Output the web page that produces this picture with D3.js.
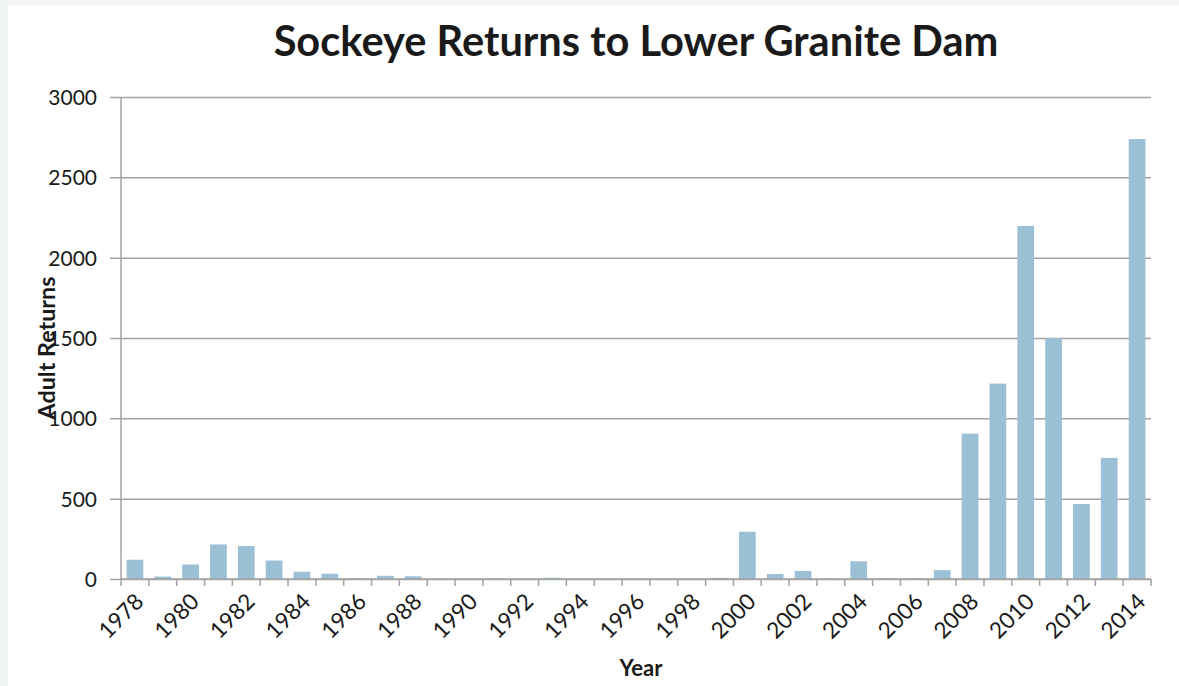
<!DOCTYPE html>
<html>
<head>
<meta charset="utf-8">
<script src="https://cdn.jsdelivr.net/npm/d3@7"></script>
<style>
  html, body { margin: 0; padding: 0; background: #f1f5f6; }
  svg { display: block; }
  text { font-family: Lato, "Open Sans", sans-serif; fill: #1a1a1a; }
</style>
</head>
<body>
<svg id="chart" width="1179" height="686"></svg>
<script>
const years = [1978,1979,1980,1981,1982,1983,1984,1985,1986,1987,1988,1989,1990,1991,1992,1993,1994,1995,1996,1997,1998,1999,2000,2001,2002,2003,2004,2005,2006,2007,2008,2009,2010,2011,2012,2013,2014];
const returns = [120,15,90,215,205,115,45,33,6,20,17,1,0,4,1,8,1,0,1,1,1,7,294,31,50,3,110,6,5,55,905,1216,2198,1499,467,754,2738];
const yTicks = [0,500,1000,1500,2000,2500,3000];
const titleText = "Sockeye Returns to Lower Granite Dam";
const xTitle = "Year";
const yTitle = "Adult Returns";

const W = 1179, H = 686;
const m = {left: 121, right: 28, top: 97, bottom: 107};
const svg = d3.select("#chart");

// frame
svg.append("rect").attr("x", 0).attr("y", 0).attr("width", W).attr("height", H).attr("fill", "#f1f5f6");
svg.append("rect").attr("x", 8).attr("y", 5).attr("width", W - 8).attr("height", H - 5).attr("fill", "#ffffff");

const x = d3.scaleBand().domain(years).range([m.left, W - m.right]).paddingInner(0.4).paddingOuter(0.2);
const y = d3.scaleLinear().domain([0, 3000]).range([H - m.bottom, m.top]);

const gridColor = "#a3a3a3";

// gridlines with outward ticks
const yAxis = d3.axisLeft(y).tickValues(yTicks).tickFormat(d3.format("d"))
  .tickSize(-(W - m.right - m.left)).tickSizeOuter(0).tickPadding(0);
const gy = svg.append("g").attr("transform", `translate(${m.left},0)`).call(yAxis);
gy.select(".domain").remove();
gy.selectAll(".tick line").attr("stroke", gridColor).attr("stroke-width", 1.5).attr("x1", -11);
gy.selectAll(".tick text").attr("x", -24).attr("dy", "0.35em").style("font-size", "21px").attr("fill", "#1a1a1a");

// bars
svg.append("g").selectAll("rect").data(years).join("rect")
  .attr("x", d => x(d))
  .attr("width", x.bandwidth())
  .attr("y", (d, i) => y(returns[i]))
  .attr("height", (d, i) => y(0) - y(returns[i]))
  .attr("fill", "#9bbfd4");

// left axis line
svg.append("line").attr("x1", m.left).attr("x2", m.left).attr("y1", y(3000)).attr("y2", y(0))
  .attr("stroke", gridColor).attr("stroke-width", 1.5);

// x axis: baseline and ticks at band boundaries
const step = x.step();
const x0 = x.range()[0];
svg.append("line").attr("x1", m.left).attr("x2", W - m.right).attr("y1", y(0)).attr("y2", y(0))
  .attr("stroke", gridColor).attr("stroke-width", 1.5);
const boundaries = d3.range(years.length + 1);
svg.append("g").selectAll("line").data(boundaries).join("line")
  .attr("x1", i => x0 + i * step).attr("x2", i => x0 + i * step)
  .attr("y1", y(0)).attr("y2", y(0) + 7)
  .attr("stroke", gridColor).attr("stroke-width", 1.5);

// x labels every other year
const labelYears = years.filter(d => (d - 1978) % 2 === 0);
svg.append("g").selectAll("text").data(labelYears).join("text")
  .attr("transform", d => `translate(${x(d) + x.bandwidth() / 2 + 10},${y(0) + 24}) rotate(-45)`)
  .attr("text-anchor", "end")
  .style("font-size", "22.5px")
  .text(d => d);

// fit helper
function fit(sel, target) {
  const w = sel.node().getComputedTextLength();
  const fs = parseFloat(sel.style("font-size"));
  sel.style("font-size", (fs * target / w) + "px");
}

// title
const t = svg.append("text").attr("x", (m.left + W - m.right) / 2).attr("y", 56)
  .attr("text-anchor", "middle").style("font-size", "36px").style("font-weight", "bold")
  .text(titleText);
fit(t, 725);

// axis titles
const xt = svg.append("text").attr("x", 641).attr("y", 676).attr("text-anchor", "middle")
  .style("font-size", "20px").style("font-weight", "bold").text(xTitle);
fit(xt, 43);

const yt = svg.append("text").attr("transform", `translate(55,${348}) rotate(-90)`)
  .attr("text-anchor", "middle").style("font-size", "20px").style("font-weight", "bold").text(yTitle);
fit(yt, 143);
</script>
</body>
</html>
